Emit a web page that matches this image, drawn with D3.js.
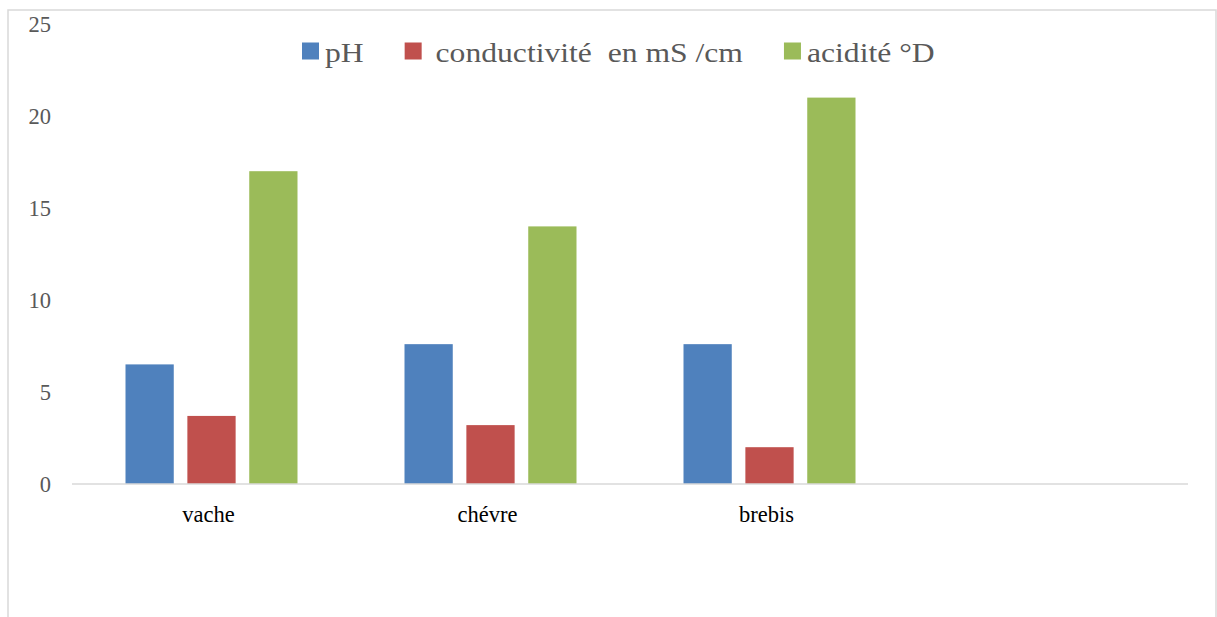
<!DOCTYPE html>
<html lang="fr">
<head>
  <meta charset="utf-8">
  <title>pH, conductivité, acidité</title>
  <script src="https://cdn.jsdelivr.net/npm/d3@7"></script>
  <style>
    body { margin: 0; background: #fff; }
  </style>
</head>
<body>
<script>
// data
var categories = ['vache', 'chévre', 'brebis', ''];
var seriesNames = ['pH', ' conductivité  en mS /cm', 'acidité °D'];
var seriesColors = ['#4F81BD', '#C0504D', '#9BBB59'];
var phValues = [6.5, 7.6, 7.6];
var conductValues = [3.7, 3.2, 2.0];
var aciditeValues = [17, 14, 21];
var yTicks = [0, 5, 10, 15, 20, 25];

var serif = "'Liberation Serif', 'Times New Roman', Tinos, 'DejaVu Serif', serif";

var width = 1217, height = 617;
var svg = d3.select('body').append('svg')
  .attr('width', width)
  .attr('height', height)
  .style('font-family', serif);

// chart frame (bottom edge is cut off in the picture)
svg.append('rect')
  .attr('x', 8).attr('y', 10)
  .attr('width', 1208).attr('height', 700)
  .attr('fill', 'none')
  .attr('stroke', '#d9d9d9')
  .attr('stroke-width', 1.5);

var x = d3.scaleBand().domain(categories).range([72, 1188]).padding(0);
var y = d3.scaleLinear().domain([0, 25]).range([484, 24]);

// bars inside each category: group is 172px wide, centred
var margin = (x.bandwidth() - 172) / 2;
var xs = d3.scaleBand().domain(d3.range(3))
  .range([margin, x.bandwidth() - margin])
  .paddingInner(0.22).paddingOuter(0);

var allSeries = [phValues, conductValues, aciditeValues];
var rows = [];
allSeries.forEach(function (vals, s) {
  vals.forEach(function (v, i) {
    rows.push({ cat: categories[i], s: s, v: v });
  });
});

svg.append('g').selectAll('rect')
  .data(rows)
  .enter()
  .append('rect')
  .attr('x', function (d) { return x(d.cat) + xs(d.s); })
  .attr('y', function (d) { return y(d.v); })
  .attr('width', xs.bandwidth())
  .attr('height', function (d) { return y(0) - y(d.v); })
  .attr('fill', function (d) { return seriesColors[d.s]; });

// category axis line
svg.append('line')
  .attr('x1', x.range()[0]).attr('x2', x.range()[1])
  .attr('y1', y(0)).attr('y2', y(0))
  .attr('stroke', '#d9d9d9')
  .attr('stroke-width', 1.5);

// y tick labels
svg.append('g').selectAll('text')
  .data(yTicks)
  .enter()
  .append('text')
  .attr('x', 51)
  .attr('y', function (d) { return y(d) + 8; })
  .attr('text-anchor', 'end')
  .attr('font-family', serif)
  .attr('font-size', 22.5)
  .attr('fill', '#595959')
  .text(function (d) { return d; });

// category labels
svg.append('g').selectAll('text')
  .data(categories.filter(function (c) { return c !== ''; }))
  .enter()
  .append('text')
  .attr('x', function (d) { return x(d) + x.bandwidth() / 2 - 3; })
  .attr('y', 522)
  .attr('text-anchor', 'middle')
  .attr('font-family', serif)
  .attr('font-size', 22.5)
  .attr('fill', '#000')
  .text(function (d) { return d; });

// legend, text is slightly stretched in the original
var stretch = 1.13;
var lx = 302;
var legend = svg.append('g');
seriesNames.forEach(function (name, i) {
  legend.append('rect')
    .attr('x', lx).attr('y', 42.5)
    .attr('width', 17).attr('height', 17)
    .attr('fill', seriesColors[i]);
  var tx = lx + 23;
  var t = legend.append('text')
    .attr('transform', 'translate(' + tx + ',61.7) scale(' + stretch + ',1)')
    .attr('font-family', serif)
    .attr('font-size', 28)
    .attr('fill', '#595959')
    .style('white-space', 'pre')
    .text(name);
  var w = t.node().getComputedTextLength() * stretch;
  lx = tx + w + 41;
});
</script>
</body>
</html>
